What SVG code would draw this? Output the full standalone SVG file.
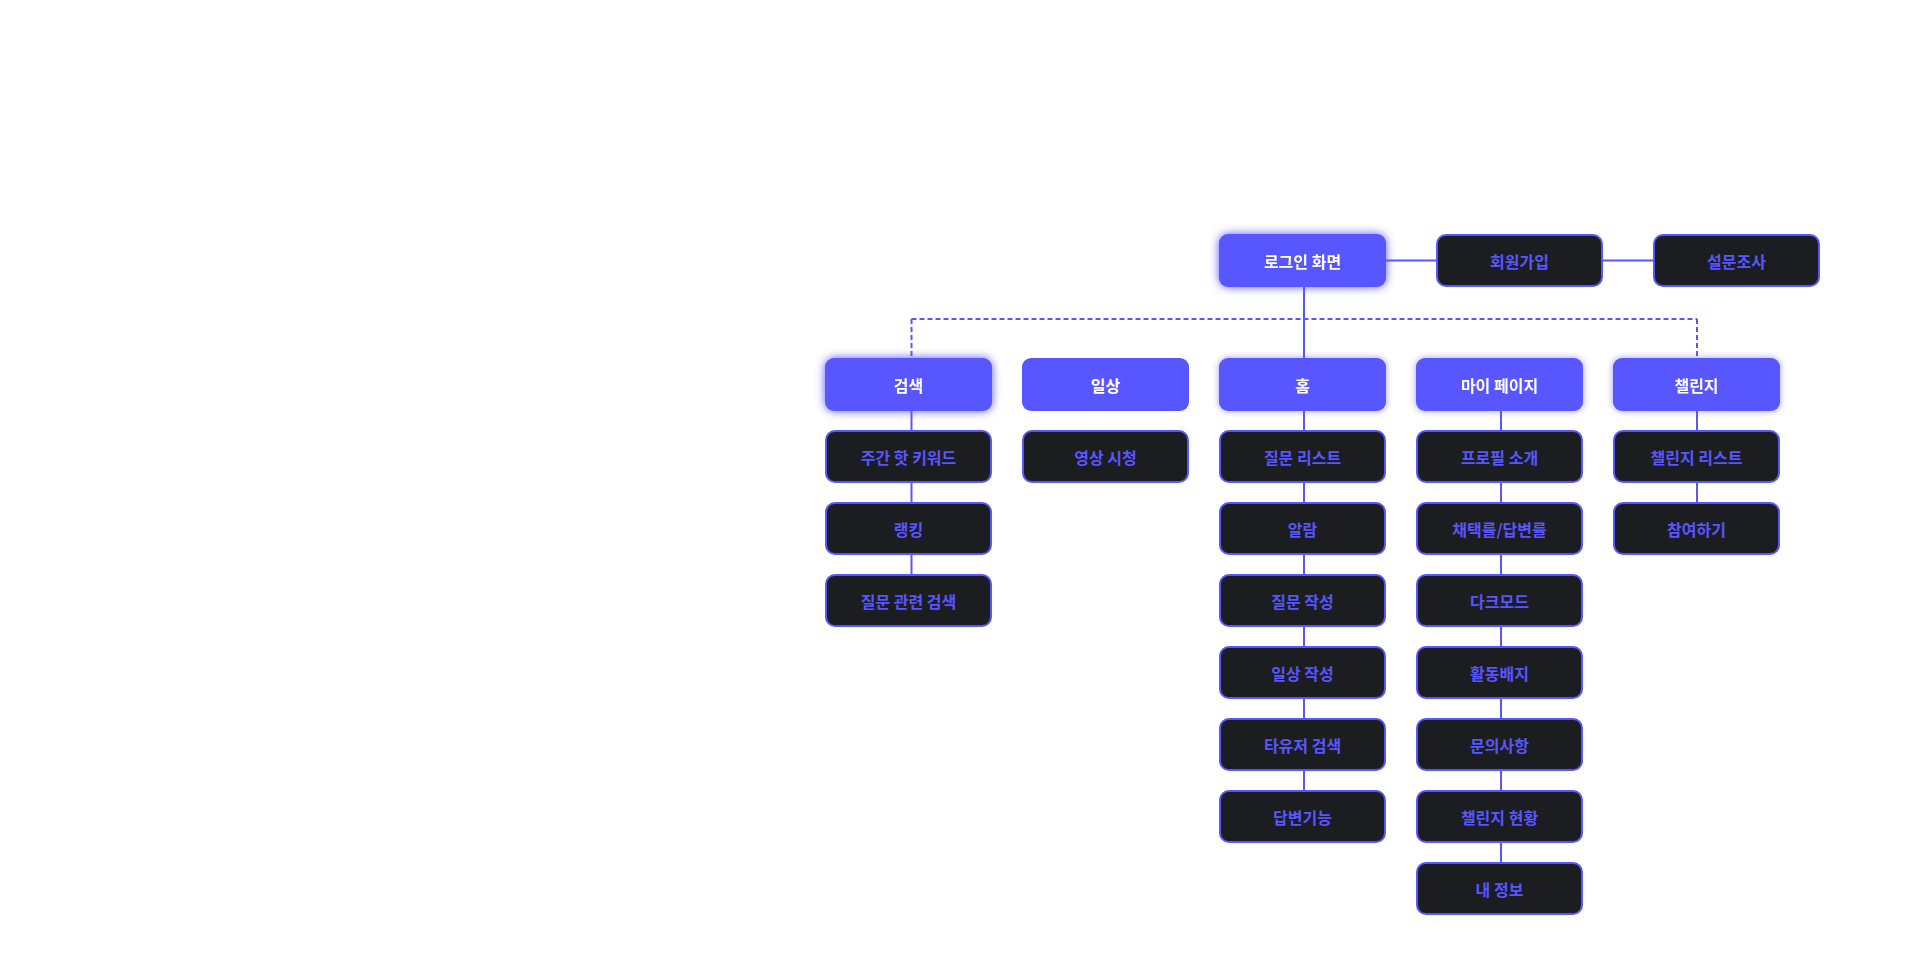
<svg xmlns="http://www.w3.org/2000/svg" width="1920" height="960" viewBox="0 0 1920 960">
<defs>
<filter id="glow" x="-30%" y="-50%" width="160%" height="200%">
<feGaussianBlur in="SourceGraphic" stdDeviation="5" result="b"/>
<feMerge><feMergeNode in="b"/><feMergeNode in="SourceGraphic"/></feMerge>
</filter>
<filter id="glow2" x="-30%" y="-50%" width="160%" height="200%">
<feGaussianBlur in="SourceGraphic" stdDeviation="3.5" result="b"/>
<feComponentTransfer in="b" result="c"><feFuncA type="linear" slope="0.6"/></feComponentTransfer>
<feMerge><feMergeNode in="c"/><feMergeNode in="SourceGraphic"/></feMerge>
</filter>
</defs>
<style>
text{font-family:"Noto Sans CJK KR","Noto Sans",sans-serif;font-weight:700;font-size:16px;text-anchor:middle;dominant-baseline:central}
.p rect{fill:#5856FF}
.p text{fill:#FFFFFF}
.d rect{fill:#1C1D20;stroke:#5856FF;stroke-width:2}
.d text{fill:#5856FF}
.c line{stroke:#5856FF;stroke-width:2}
.c .dash{stroke-dasharray:5 3}
</style>
<rect width="1920" height="960" fill="#FFFFFF"/>
<g class="c" id="connectors">
<line x1="1386" y1="260.5" x2="1436" y2="260.5"/>
<line x1="1602" y1="260.5" x2="1654" y2="260.5"/>
<line x1="1304" y1="287" x2="1304" y2="358"/>
<line class="dash" x1="911.5" y1="319" x2="1697" y2="319"/>
<line class="dash" x1="911.5" y1="319" x2="911.5" y2="358"/>
<line class="dash" x1="1697" y1="319" x2="1697" y2="358"/>
<line x1="911.5" y1="411" x2="911.5" y2="576"/>
<line x1="1304" y1="411" x2="1304" y2="792"/>
<line x1="1501" y1="411" x2="1501" y2="864"/>
<line x1="1697" y1="411" x2="1697" y2="504"/>
</g>
<g id="n-login" class="p" filter="url(#glow)"><rect x="1219" y="234" width="167" height="53" rx="9"/><text x="1302.5" y="260.5">로그인 화면</text></g>
<g id="n-signup" class="d"><rect x="1437" y="235" width="165" height="51" rx="9"/><text x="1519.5" y="260.5">회원가입</text></g>
<g id="n-survey" class="d"><rect x="1654" y="235" width="165" height="51" rx="9"/><text x="1736.5" y="260.5">설문조사</text></g>

<g id="n-search" class="p" filter="url(#glow)"><rect x="825" y="358" width="167" height="53" rx="9"/><text x="908.5" y="384.5">검색</text></g>
<g id="n-daily" class="p"><rect x="1022" y="358" width="167" height="53" rx="9"/><text x="1105.5" y="384.5">일상</text></g>
<g id="n-home" class="p" filter="url(#glow2)"><rect x="1219" y="358" width="167" height="53" rx="9"/><text x="1302.5" y="384.5">홈</text></g>
<g id="n-mypage" class="p" filter="url(#glow2)"><rect x="1416" y="358" width="167" height="53" rx="9"/><text x="1499.5" y="384.5">마이 페이지</text></g>
<g id="n-challenge" class="p" filter="url(#glow2)"><rect x="1613" y="358" width="167" height="53" rx="9"/><text x="1696.5" y="384.5">챌린지</text></g>

<g id="n-s1" class="d"><rect x="826" y="431" width="165" height="51" rx="9"/><text x="908.5" y="456.5">주간 핫 키워드</text></g>
<g id="n-s2" class="d"><rect x="826" y="503" width="165" height="51" rx="9"/><text x="908.5" y="528.5">랭킹</text></g>
<g id="n-s3" class="d"><rect x="826" y="575" width="165" height="51" rx="9"/><text x="908.5" y="600.5">질문 관련 검색</text></g>

<g id="n-d1" class="d"><rect x="1023" y="431" width="165" height="51" rx="9"/><text x="1105.5" y="456.5">영상 시청</text></g>

<g id="n-h1" class="d"><rect x="1220" y="431" width="165" height="51" rx="9"/><text x="1302.5" y="456.5">질문 리스트</text></g>
<g id="n-h2" class="d"><rect x="1220" y="503" width="165" height="51" rx="9"/><text x="1302.5" y="528.5">알람</text></g>
<g id="n-h3" class="d"><rect x="1220" y="575" width="165" height="51" rx="9"/><text x="1302.5" y="600.5">질문 작성</text></g>
<g id="n-h4" class="d"><rect x="1220" y="647" width="165" height="51" rx="9"/><text x="1302.5" y="672.5">일상 작성</text></g>
<g id="n-h5" class="d"><rect x="1220" y="719" width="165" height="51" rx="9"/><text x="1302.5" y="744.5">타유저 검색</text></g>
<g id="n-h6" class="d"><rect x="1220" y="791" width="165" height="51" rx="9"/><text x="1302.5" y="816.5">답변기능</text></g>

<g id="n-m1" class="d"><rect x="1417" y="431" width="165" height="51" rx="9"/><text x="1499.5" y="456.5">프로필 소개</text></g>
<g id="n-m2" class="d"><rect x="1417" y="503" width="165" height="51" rx="9"/><text x="1499.5" y="528.5">채택률/답변률</text></g>
<g id="n-m3" class="d"><rect x="1417" y="575" width="165" height="51" rx="9"/><text x="1499.5" y="600.5">다크모드</text></g>
<g id="n-m4" class="d"><rect x="1417" y="647" width="165" height="51" rx="9"/><text x="1499.5" y="672.5">활동배지</text></g>
<g id="n-m5" class="d"><rect x="1417" y="719" width="165" height="51" rx="9"/><text x="1499.5" y="744.5">문의사항</text></g>
<g id="n-m6" class="d"><rect x="1417" y="791" width="165" height="51" rx="9"/><text x="1499.5" y="816.5">챌린지 현황</text></g>
<g id="n-m7" class="d"><rect x="1417" y="863" width="165" height="51" rx="9"/><text x="1499.5" y="888.5">내 정보</text></g>

<g id="n-c1" class="d"><rect x="1614" y="431" width="165" height="51" rx="9"/><text x="1696.5" y="456.5">챌린지 리스트</text></g>
<g id="n-c2" class="d"><rect x="1614" y="503" width="165" height="51" rx="9"/><text x="1696.5" y="528.5">참여하기</text></g>
</svg>
